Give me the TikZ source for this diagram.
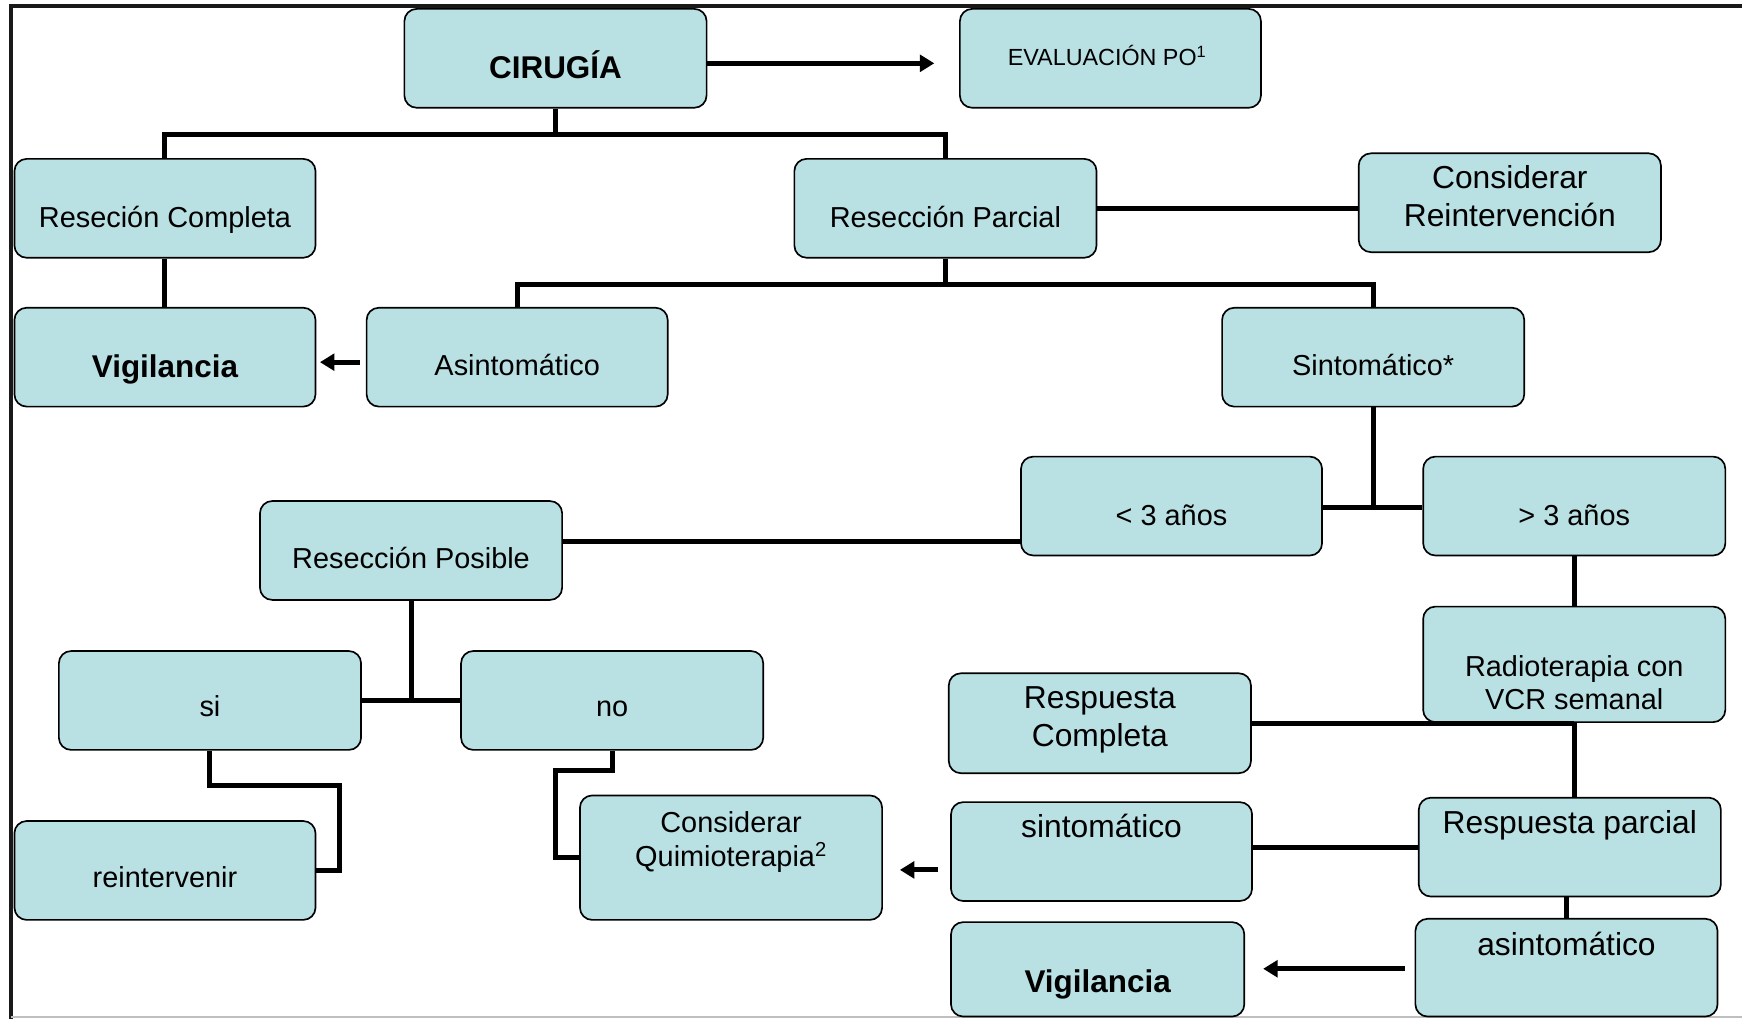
\documentclass[tikz,border=0pt]{standalone}
\usepackage{fontspec}
\setmainfont{Liberation Sans}
\usetikzlibrary{arrows.meta}
\definecolor{boxfill}{RGB}{185,224,227}
\begin{document}
\begin{tikzpicture}[x=1pt,y=-1pt,
 box/.style={draw=black,line width=1.5pt,fill=boxfill,rounded corners=11pt,inner sep=0pt},
 conn/.style={line width=4.5pt,draw=black},
 arr/.style={conn,-{Triangle[length=13pt,width=15pt]}},
 tn/.style={anchor=base,inner sep=0pt,align=center,font=\fontsize{26}{30.5}\selectfont},
 tl/.style={anchor=base,inner sep=0pt,align=center,font=\fontsize{28.6}{34.5}\selectfont},
 tb/.style={anchor=base,inner sep=0pt,font=\fontsize{28.3}{34}\selectfont\bfseries},
 ts/.style={anchor=base,inner sep=0pt,font=\fontsize{21}{25}\selectfont},
]
\useasboundingbox (0,0) rectangle (1568,917);
% frame
\draw[line width=3.6pt,black!90] (10,5.4) -- (1568,5.4);
\draw[line width=3pt,black!90] (10,3.6) -- (10,917);
\draw[line width=2pt,black!25] (10,915.5) -- (1568,915.5);

% boxes
\node[box,minimum width=272pt,minimum height=89pt] (cir) at (500,52.5) {};
\node[box,minimum width=271pt,minimum height=89pt] (eva) at (999.5,52.5) {};
\node[box,minimum width=271pt,minimum height=89pt] (rc) at (148.5,187.5) {};
\node[box,minimum width=272pt,minimum height=89pt] (rp) at (851,187.5) {};
\node[box,minimum width=272pt,minimum height=89pt] (cr) at (1359,182.5) {};
\node[box,minimum width=271pt,minimum height=89pt] (vig1) at (148.5,321.5) {};
\node[box,minimum width=271pt,minimum height=89pt] (asi) at (465.5,321.5) {};
\node[box,minimum width=272pt,minimum height=89pt] (sin) at (1236,321.5) {};
\node[box,minimum width=271pt,minimum height=89pt] (lt3) at (1054.5,455.5) {};
\node[box,minimum width=272pt,minimum height=89pt] (gt3) at (1417,455.5) {};
\node[box,minimum width=272pt,minimum height=89pt] (rpos) at (370,495.5) {};
\node[box,minimum width=272pt,minimum height=104pt] (rad) at (1417,598) {};
\node[box,minimum width=272pt,minimum height=89pt] (si) at (189,630.5) {};
\node[box,minimum width=272pt,minimum height=89pt] (no) at (551,630.5) {};
\node[box,minimum width=272pt,minimum height=90pt] (resc) at (990,651) {};
\node[box,minimum width=271pt,minimum height=89pt] (rein) at (148.5,783.5) {};
\node[box,minimum width=272pt,minimum height=112pt] (quim) at (658,772) {};
\node[box,minimum width=271pt,minimum height=89pt] (sint2) at (991.5,766.5) {};
\node[box,minimum width=272pt,minimum height=89pt] (rpar) at (1413,762.5) {};
\node[box,minimum width=272pt,minimum height=88pt] (asi2) at (1410,871) {};
\node[box,minimum width=264pt,minimum height=85pt] (vig2) at (988,872.5) {};

% texts (base = baseline of last line)
\node[tb] (t-cir) at (500,71) {CIRUGÍA};
\node[ts] (t-eva) at (996.5,59) {EVALUACIÓN PO\textsuperscript{1}};
\node[tn] (t-rc) at (148.5,205) {Reseción Completa};
\node[tn] (t-rp) at (851,205) {Resección Parcial};
\node[tl] (t-cr) at (1359,204) {Considerar\\Reintervención};
\node[tb] (t-vig1) at (148.5,340) {Vigilancia};
\node[tn] (t-asi) at (465.5,338) {Asintomático};
\node[tn] (t-sin) at (1236,338) {Sintomático*};
\node[tn] (t-lt3) at (1054.5,473) {< 3 años};
\node[tn] (t-gt3) at (1417,473) {> 3 años};
\node[tn] (t-rpos) at (370,512) {Resección Posible};
\node[tn] (t-rad) at (1417,639) {Radioterapia con\\VCR semanal};
\node[tn] (t-si) at (189,645) {si};
\node[tn] (t-no) at (551,645) {no};
\node[tl] (t-resc) at (990,672) {Respuesta\\Completa};
\node[tn] (t-rein) at (148.5,799) {reintervenir};
\node[tn] (t-quim) at (658,780) {Considerar\\Quimioterapia\textsuperscript{2}};
\node[tl] (t-sint2) at (991.5,754) {sintomático};
\node[tl] (t-rpar) at (1413,750) {Respuesta parcial};
\node[tl] (t-asi2) at (1410,860) {asintomático};
\node[tb] (t-vig2) at (988,893) {Vigilancia};

% arrow end points
\coordinate (a1) at (841,57);
\coordinate (a2) at (288,326);
\coordinate (a3) at (810,783);
\coordinate (a4) at (1137,872);

% connectors
\draw[arr] (cir.east) ++(0,4.5) -- (a1);
\draw[conn] (cir.south) -- ++(0,23) -| (rc.north);
\draw[conn] (cir.south) -- ++(0,23) -| (rp.north);
\draw[conn] (rc.south) -- (vig1.north);
\draw[arr] (asi.west |- a2) ++(-5,0) -- (a2);
\draw[conn] (rp.east) -- (rp.east -| cr.west);
\draw[conn] (rp.south) -- ++(0,23) -| (asi.north);
\draw[conn] (rp.south) -- ++(0,23) -| (sin.north);
\draw[conn] (sin.south) -- ([yshift=-1.5pt]sin.south |- lt3.east);
\draw[conn] ([yshift=-1.5pt]lt3.east) -- ([yshift=-1.5pt]gt3.west);
\draw[conn] (lt3.south west) ++(0,-13) coordinate (h1) -- (h1 -| rpos.east);
\draw[conn] (rpos.south) -- (rpos.south |- si.east);
\draw[conn] (si.east) -- (no.west);
\draw[conn] (si.south) -- ++(0,31) -- ++(117,0) |- (rein.east);
\draw[conn] (no.south) -- ++(0,18) -- ++(-51,0) |- (quim.west);
\draw[conn] (gt3.south) -- (rad.north);
\draw[conn] (rad.south) -- (rad.south |- rpar.north);
\draw[conn] (resc.east) -- (resc.east -| rad.south);
\draw[conn] (rpar.west) -- (rpar.west -| sint2.east);
\draw[conn] (asi2.north |- rpar.south) -- (asi2.north);
\draw[arr] (sint2.west |- a3) ++(-11,0) -- (a3);
\draw[arr] (asi2.west |- a4) ++(-9,0) -- (a4);
\end{tikzpicture}
\end{document}
